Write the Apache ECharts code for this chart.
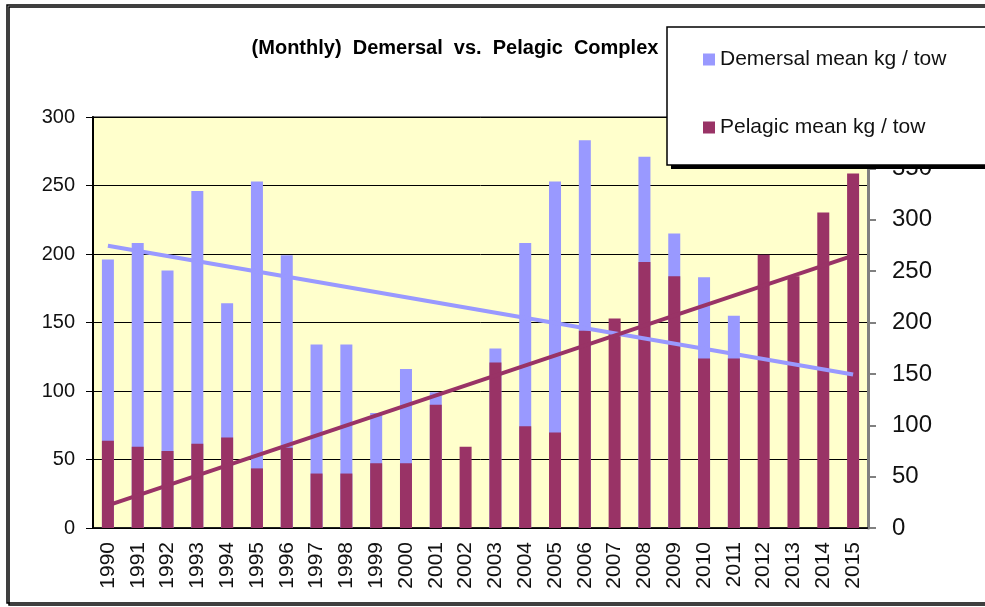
<!DOCTYPE html>
<html>
<head>
<meta charset="utf-8">
<script src="https://cdn.jsdelivr.net/npm/echarts@6/dist/echarts.min.js"></script>
<style>
  html, body { margin: 0; padding: 0; background: #fff; }
  #chart { width: 985px; height: 607px; }
</style>
</head>
<body>
<div id="chart"></div>
<script>
// years on the x axis
var years = ['1990','1991','1992','1993','1994','1995','1996','1997','1998','1999',
  '2000','2001','2002','2003','2004','2005','2006','2007','2008','2009',
  '2010','2011','2012','2013','2014','2015']

// demersal mean kg / tow (left axis), null where hidden behind pelagic bar
var demersal = [196, 208, 188, 246, 164, 253, 199, 134, 134, 84,
  116, 99, null, 131, 208, 253, 283, null, 271, 215,
  183, 155, null, null, null, null]

// pelagic mean kg / tow (right axis)
var pelagic = [85, 79, 75, 82, 88, 58, 78, 53, 53, 63,
  63, 120, 79, 161, 99, 93, 192, 204, 259, 245,
  165, 165, 266, 245, 307, 345]

// linear trend endpoints (first and last year)
var demersalTrend = [206, 112]
var pelagicTrend = [22, 265]

var leftTicks = { min: 0, max: 300, interval: 50 }
var rightTicks = { min: 0, max: 400, interval: 50 }

function trendLine(ends) {
  return years.map(function (y, i) {
    if (i === 0) return ends[0]
    if (i === years.length - 1) return ends[1]
    return null
  })
}

var font = '"Liberation Sans", Arial, sans-serif'
var chart = echarts.init(document.getElementById('chart'))
chart.setOption({
  animation: false,
  backgroundColor: '#fff',
  textStyle: { fontFamily: font },
  graphic: [{
    // outer chart frame
    type: 'rect',
    z: -10,
    shape: { x: 7, y: 5, width: 1000, height: 598 },
    style: {
      fill: 'none', stroke: '#000', lineWidth: 1.5,
      shadowColor: '#000', shadowOffsetX: 2, shadowOffsetY: 2
    }
  }, {
    // legend box shadow
    type: 'rect',
    z: 10,
    shape: { x: 671, y: 31, width: 400, height: 138 },
    style: { fill: '#000' }
  }, {
    // legend box
    type: 'rect',
    z: 11,
    shape: { x: 667, y: 27, width: 400, height: 138 },
    style: { fill: '#fff', stroke: '#000', lineWidth: 1.5 }
  }],
  title: {
    text: '(Monthly)  Demersal  vs.  Pelagic  Complex',
    left: 450,
    top: 33,
    textAlign: 'center',
    textStyle: { fontFamily: font, fontSize: 20, fontWeight: 'bold', color: '#000' }
  },
  legend: {
    data: ['Demersal mean kg / tow', 'Pelagic mean kg / tow'],
    orient: 'vertical',
    left: 703,
    top: 49,
    z: 20,
    padding: 0,
    itemGap: 47,
    itemWidth: 12,
    itemHeight: 12,
    icon: 'rect',
    textStyle: { fontFamily: font, fontSize: 21, color: '#111' }
  },
  grid: {
    left: 93, right: 117, top: 117, bottom: 79,
    show: true,
    backgroundColor: '#ffffcc',
    borderColor: '#808080',
    borderWidth: 2
  },
  xAxis: {
    type: 'category',
    data: years,
    axisLine: { lineStyle: { color: '#000', width: 1.5 } },
    axisTick: { length: 7, lineStyle: { color: '#000', width: 1.5 } },
    axisLabel: {
      rotate: 90, margin: 14, fontSize: 21, color: '#111', fontFamily: font, interval: 0
    }
  },
  yAxis: [{
    type: 'value',
    min: leftTicks.min, max: leftTicks.max, interval: leftTicks.interval,
    axisLine: { show: true, lineStyle: { color: '#000', width: 2 } },
    axisTick: { show: true, length: 7, lineStyle: { color: '#000' } },
    axisLabel: { margin: 18, fontSize: 20, color: '#111', fontFamily: font },
    splitLine: { lineStyle: { color: '#000', width: 1 } }
  }, {
    type: 'value',
    position: 'right',
    min: rightTicks.min, max: rightTicks.max, interval: rightTicks.interval,
    axisLine: { show: true, lineStyle: { color: '#808080', width: 3 } },
    axisTick: { show: true, length: 8, lineStyle: { color: '#808080', width: 2 } },
    axisLabel: { margin: 24, fontSize: 24, color: '#111', fontFamily: font },
    splitLine: { show: false }
  }],
  series: [{
    name: 'Demersal mean kg / tow',
    type: 'bar',
    yAxisIndex: 0,
    barWidth: 12,
    barGap: '-100%',
    itemStyle: { color: '#9999ff' },
    data: demersal
  }, {
    name: 'Pelagic mean kg / tow',
    type: 'bar',
    yAxisIndex: 1,
    barWidth: 12,
    barGap: '-100%',
    itemStyle: { color: '#993366' },
    data: pelagic
  }, {
    name: 'Demersal trend',
    type: 'line',
    yAxisIndex: 0,
    connectNulls: true,
    symbol: 'none',
    lineStyle: { color: '#9999ff', width: 4 },
    data: trendLine(demersalTrend)
  }, {
    name: 'Pelagic trend',
    type: 'line',
    yAxisIndex: 1,
    connectNulls: true,
    symbol: 'none',
    lineStyle: { color: '#993366', width: 4 },
    data: trendLine(pelagicTrend)
  }]
})
</script>
</body>
</html>
